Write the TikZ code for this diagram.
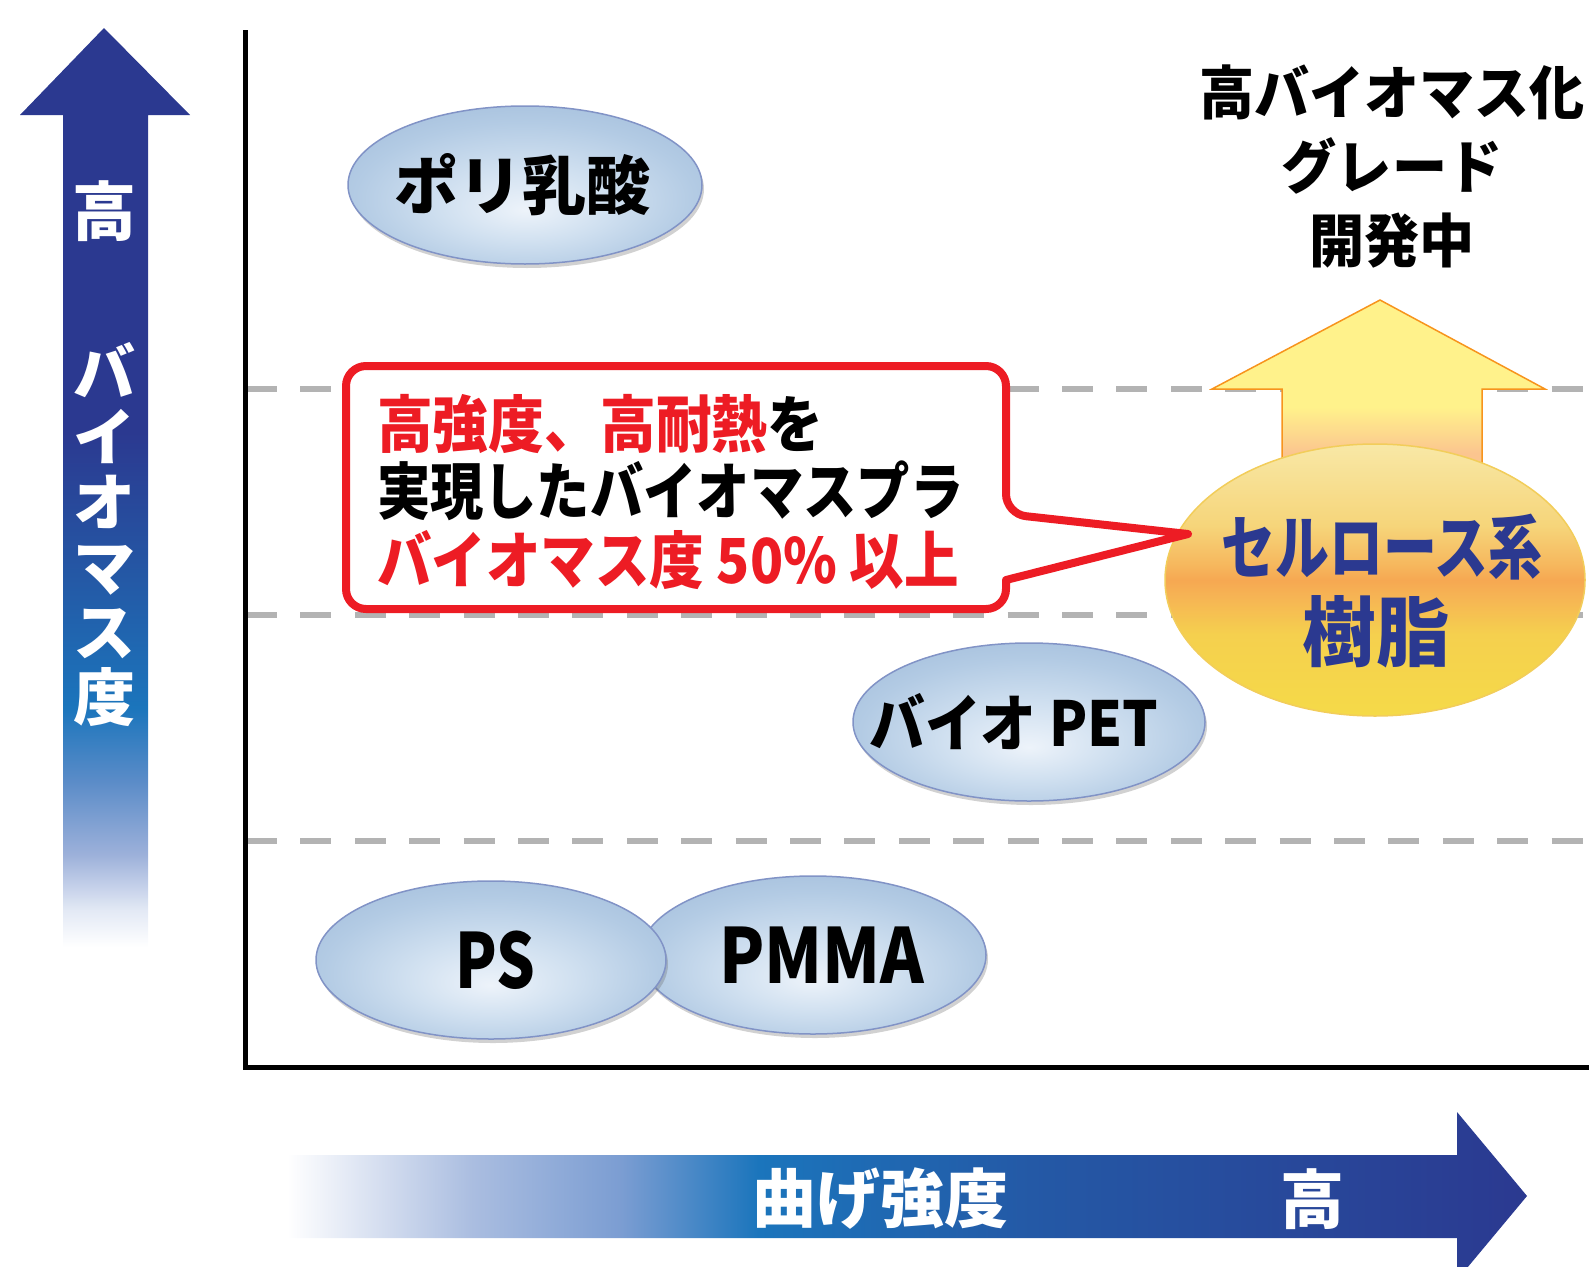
\documentclass[tikz,border=0pt]{standalone}
\usepackage{fontspec}
\setmainfont{Noto Sans CJK JP}
\usepackage{graphicx}
\usetikzlibrary{shapes.geometric,shadows}
\definecolor{navy}{HTML}{2B3990}
\definecolor{midblue}{HTML}{1B75BC}
\definecolor{cred}{HTML}{ED1C24}
\definecolor{dashgray}{HTML}{B3B3B3}
\definecolor{ellborder}{HTML}{8193C6}
\definecolor{ellA}{HTML}{EDF3FA}
\definecolor{ellB}{HTML}{D0E0F0}
\definecolor{ellC}{HTML}{B3CBE4}
\definecolor{ellD}{HTML}{A2BDDB}
\definecolor{lbA}{HTML}{E3E9F5}
\definecolor{lbB}{HTML}{9DB1DA}
\definecolor{lbC}{HTML}{5B8CC8}
\definecolor{lbD}{HTML}{2459A6}
\definecolor{hbB}{HTML}{AABDE0}
\definecolor{hbC}{HTML}{7B9DD2}
\definecolor{yB}{HTML}{F5DA48}
\definecolor{yC}{HTML}{F5D04E}
\definecolor{yE}{HTML}{F6B454}
\definecolor{yO}{HTML}{F6A852}
\definecolor{yF}{HTML}{F6B85E}
\definecolor{yD}{HTML}{F6D57A}
\definecolor{yT}{HTML}{F8E8A6}
\definecolor{yaT}{HTML}{FFF28B}
\definecolor{yaB}{HTML}{FBC58F}
\definecolor{yaBorder}{HTML}{F7941D}
\definecolor{yellBorder}{HTML}{F2CD5A}
\pgfdeclareverticalshading{leftarrowshade}{100bp}{color(0bp)=(white); color(25bp)=(white); color(27bp)=(lbA); color(30bp)=(lbB); color(34bp)=(lbC); color(38bp)=(midblue); color(45bp)=(lbD); color(53bp)=(navy); color(100bp)=(navy)}
\pgfdeclarehorizontalshading{botarrowshade}{100bp}{color(0bp)=(white); color(25bp)=(white); color(27.5bp)=(lbA); color(32.5bp)=(hbB); color(38.5bp)=(hbC); color(44bp)=(midblue); color(55bp)=(lbD); color(75bp)=(navy); color(100bp)=(navy)}
\pgfdeclareverticalshading{yellellshade}{100bp}{color(0bp)=(yB); color(25bp)=(yB); color(40bp)=(yC); color(47bp)=(yE); color(50bp)=(yO); color(53bp)=(yF); color(60bp)=(yD); color(75bp)=(yT); color(100bp)=(yT)}
\pgfdeclareverticalshading{yarrowshade}{100bp}{color(0bp)=(yaB); color(25bp)=(yaB); color(30bp)=(yaB); color(43.5bp)=(yaT); color(75bp)=(yaT); color(100bp)=(yaT)}
\pgfdeclareradialshading{blueglow}{\pgfpoint{0bp}{-8bp}}{color(0bp)=(ellA); color(12bp)=(ellB); color(24bp)=(ellC); color(34bp)=(ellD); color(50bp)=(ellD)}
\begin{document}
\begin{tikzpicture}[x=1pt,y=-1pt,
  dashline/.style={dashgray, line width=6, dash pattern=on 31pt off 23.4pt},
  axisline/.style={black, line width=5, line join=miter},
  blueell/.style={ellipse, draw=ellborder, line width=1.5, inner sep=0,
     shading=blueglow,
     drop shadow={shadow xshift=2pt, shadow yshift=-4pt, opacity=0.3, fill=black!60}},
  yellell/.style={ellipse, draw=yellBorder, line width=1.5, inner sep=0, shading=yellellshade},
  txt/.style={inner sep=0, outer sep=0},
  fs/.style={font=\bfseries\fontsize{#1}{#1}\selectfont}
]
\useasboundingbox (0,0) rectangle (1589,1266);

% dashed guide lines
\draw[dashline] (246,389) -- (1589,389);
\draw[dashline] (246,615) -- (1589,615);
\draw[dashline] (246,841) -- (1589,841);

% axes
\draw[axisline] (245,30) -- (245,1067) -- (1589,1067);

% left arrow
\shade[shading=leftarrowshade] (63,947) -- (63,115) -- (20,115) -- (104,28) -- (190,115) -- (148,115) -- (148,947) -- cycle;
\node[txt, fs=64, text=white] (hiL) at (104,211) {高};
\node[txt, text=white, align=center, font=\bfseries\fontsize{62}{65}\selectfont] (bioL) at (104,535) {バ\\イ\\オ\\マ\\ス\\度};

% bottom arrow
\shade[shading=botarrowshade] (287,1155) -- (1457,1155) -- (1457,1112) -- (1527,1196) -- (1457,1280) -- (1457,1238) -- (287,1238) -- cycle;
\node[txt, fs=64, text=white] (bend) at (880,1199) {曲げ強度};
\node[txt, fs=64, text=white] (bhi) at (1312,1199) {高};

% top-right text
\node[txt, align=center, font=\bfseries\fontsize{58}{74}\selectfont] (dev) at (1392,167)
  {\scalebox{0.95}[1]{高バイオマス化}\\\scalebox{0.95}[1]{グレード}\\\scalebox{0.95}[1]{開発中}};

% yellow arrow
\shade[shading=yarrowshade, draw=yaBorder, line width=1.5] (1282,470) -- (1282,389) -- (1212,389) -- (1380,300) -- (1545,389) -- (1482,389) -- (1482,470) -- cycle;

% ellipses
\node[blueell, minimum width=354, minimum height=158] (pla) at (525,185) {};
\node[blueell, minimum width=352, minimum height=158] (pet) at (1029,722) {};
\node[blueell, minimum width=346, minimum height=158] (pmma) at (813,955) {};
\node[blueell, minimum width=350, minimum height=158] (ps) at (491,960) {};
\node[yellell, minimum width=420, minimum height=272] (cel) at (1375,580) {};

% ellipse labels
\node[txt, fs=64] (plaT) at (522,185) {ポリ乳酸};
\node[txt, fs=62] (petT) at (1014,722) {\scalebox{0.9}[1]{バイオ PET}};
\node[txt, fs=76] (psT) at (495,960) {\scalebox{0.8}[1]{PS}};
\node[txt, fs=76] (pmmaT) at (822,955) {\scalebox{0.87}[1]{PMMA}};
\node[txt, fs=70, text=navy] (celT1) at (1382,547) {\scalebox{0.77}[1]{セルロース系}};
\node[txt, fs=76, text=navy] (celT2) at (1376,632) {\scalebox{0.97}[1]{樹脂}};

% callout
\coordinate (ctip) at (1188,534);
\draw[cred, line width=8, fill=white, line join=round] (1006,514) -- (ctip) -- (1006,580) [rounded corners=20] -- (1006,609) -- (346,609) -- (346,366) -- (1006,366) -- cycle;
\node[txt, fs=62, anchor=west] (c1) at (377,424) {\scalebox{0.9}[1]{\textcolor{cred}{高強度、高耐熱}を}};
\node[txt, fs=62, anchor=west] (c2) at (377,491) {\scalebox{0.86}[1]{実現したバイオマスプラ}};
\node[txt, fs=62, anchor=west, text=cred] (c3) at (377,560) {\scalebox{0.88}[1]{バイオマス度 50\% 以上}};
\end{tikzpicture}
\end{document}
